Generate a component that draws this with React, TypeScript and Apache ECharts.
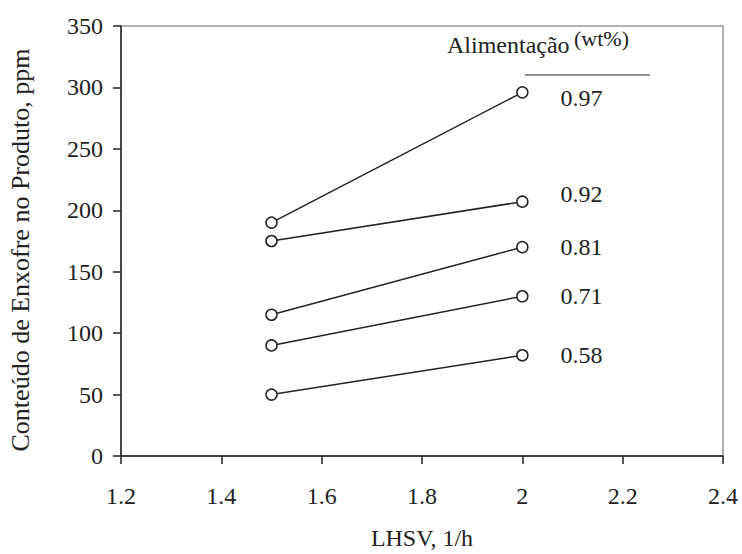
import React, { useEffect, useRef } from "react";
import * as echarts from "echarts";

const feeds = ["0.97", "0.92", "0.81", "0.71", "0.58"];
const lhsv = [1.5, 2];
const sulfur = [
  [190, 296],
  [175, 207],
  [115, 170],
  [90, 130],
  [50, 82],
];
const labelDy = [6, -8, 0, 0, 0];
const xTicks = { min: 1.2, max: 2.4, interval: 0.2 };
const yTicks = { min: 0, max: 350, interval: 50 };

const FONT = "Liberation Serif, Times New Roman, serif";

export default function App() {
  const ref = useRef<HTMLDivElement>(null);
  useEffect(() => {
    if (!ref.current) return;
    const chart = echarts.init(ref.current, null, { renderer: "svg" });
    const series = feeds.map((name, i) => ({
      name,
      type: "line",
      symbol: "circle",
      symbolSize: 11,
      itemStyle: { color: "#fff", borderColor: "#222", borderWidth: 1.5 },
      lineStyle: { color: "#222", width: 1.5 },
      data: lhsv.map((x, j) =>
        j === lhsv.length - 1
          ? {
              value: [x, sulfur[i][j]],
              label: {
                show: true,
                position: "right",
                distance: 32,
                offset: [0, labelDy[i]],
                formatter: name,
                color: "#222",
                fontFamily: FONT,
                fontSize: 24,
              },
            }
          : { value: [x, sulfur[i][j]] }
      ),
    }));
    chart.setOption({
      animation: false,
      backgroundColor: "#fff",
      textStyle: { fontFamily: FONT },
      grid: {
        left: 121,
        right: 19,
        top: 26,
        bottom: 98,
        outerBoundsMode: "none",
        containLabel: false,
        show: true,
        borderColor: "#999",
        borderWidth: 1.5,
        backgroundColor: "transparent",
      },
      xAxis: {
        type: "value",
        ...xTicks,
        name: "LHSV, 1/h",
        nameLocation: "middle",
        nameGap: 70,
        nameTextStyle: { fontFamily: FONT, fontSize: 24, color: "#222" },
        axisLine: { show: true, lineStyle: { color: "#222", width: 1.5 } },
        axisTick: { show: true, length: 8, lineStyle: { color: "#222", width: 1.5 } },
        axisLabel: { fontFamily: FONT, fontSize: 24, color: "#222", margin: 28 },
        splitLine: { show: false },
      },
      yAxis: {
        type: "value",
        ...yTicks,
        name: "Conteúdo de Enxofre no Produto, ppm",
        nameLocation: "middle",
        nameGap: 88,
        nameTextStyle: {
          fontFamily: FONT,
          fontSize: 26,
          color: "#222",
          padding: [0, 18, 0, 0],
        },
        axisLine: { show: true, lineStyle: { color: "#222", width: 1.5 } },
        axisTick: { show: true, length: 8, lineStyle: { color: "#222", width: 1.5 } },
        axisLabel: { fontFamily: FONT, fontSize: 24, color: "#222", margin: 18 },
        splitLine: { show: false },
      },
      graphic: [
        {
          type: "text",
          left: 447,
          top: 33,
          style: { text: "Alimentação", fontFamily: FONT, fontSize: 24, fill: "#222" },
        },
        {
          type: "text",
          left: 574,
          top: 27,
          style: { text: "(wt%)", fontFamily: FONT, fontSize: 22, fill: "#222" },
        },
        {
          type: "line",
          shape: { x1: 525, y1: 75, x2: 650, y2: 75 },
          style: { stroke: "#222", lineWidth: 1.2 },
        },
      ],
      series,
    });
    return () => chart.dispose();
  }, []);
  return (
    <div
      ref={ref}
      style={{ position: "fixed", left: 0, top: 0, width: 742, height: 554 }}
    />
  );
}
